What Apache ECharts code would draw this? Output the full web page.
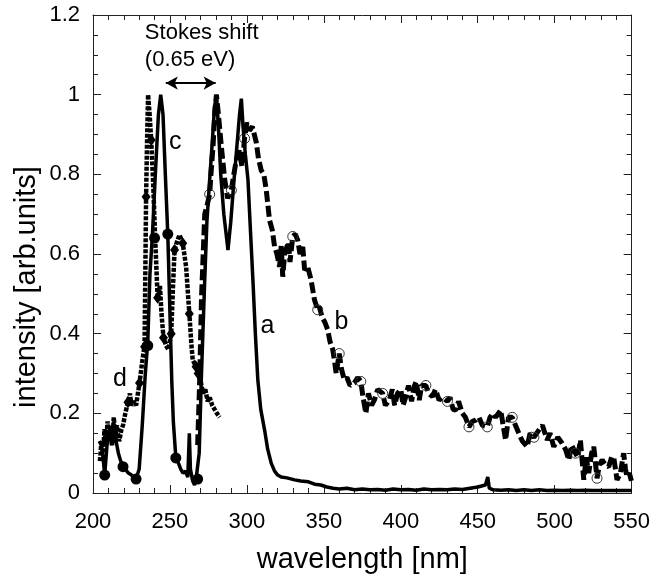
<!DOCTYPE html>
<html>
<head>
<meta charset="utf-8">
<script src="https://cdn.jsdelivr.net/npm/echarts@6/dist/echarts.min.js"></script>
<style>html,body{margin:0;padding:0;background:#fff}#c{width:653px;height:580px}</style>
</head>
<body>
<div id="c"></div>
<script>
var xTicks = [200, 250, 300, 350, 400, 450, 500, 550];
var yTicks = [0, 0.2, 0.4, 0.6, 0.8, 1, 1.2];

// solid curve (a, with c peak)
var solidA = [[204,0.13],[205.5,0.12],[206.5,0.09],[207.6,0.045],[208.5,0.09],[209.5,0.14],[210.8,0.16],[212,0.12],[213,0.15],[215,0.13],[216.5,0.10],[218,0.08],[219.5,0.066],[221,0.06],[223,0.05],[225,0.045],[228,0.035],[230,0.06],[232,0.17],[234,0.3],[235.6,0.38],[237,0.55],[238.5,0.64],[240.5,0.8],[242.5,0.95],[244,1.0],[245.5,0.95],[247,0.8],[248.6,0.65],[250,0.45],[251.2,0.28],[252.2,0.18],[253.8,0.09],[255.5,0.075],[257,0.06],[258.5,0.05],[260,0.055],[261.6,0.04],[262.6,0.15],[263.3,0.06],[264.8,0.03],[266,0.02],[267,0.035],[268,0.03],[269,0.1],[270.5,0.3],[272.6,0.535],[274,0.68],[275.8,0.786],[277.5,0.88],[279,0.97],[280.2,1.0],[281.5,0.92],[283,0.8],[285,0.7],[287.7,0.61],[289.5,0.68],[291.5,0.78],[293.5,0.87],[295.2,0.95],[296.4,0.99],[297.5,0.92],[299,0.85],[300.7,0.786],[302.3,0.66],[303.9,0.535],[305.5,0.4],[307.1,0.284],[309,0.21],[311.5,0.158],[313.5,0.11],[315.8,0.075],[318,0.055],[320,0.045],[322.3,0.04],[326,0.038],[331,0.033],[335,0.03],[340,0.028],[344,0.022],[348,0.02],[352,0.015],[356,0.012],[360,0.01],[365,0.012],[370,0.008],[375,0.01],[380,0.008],[385,0.009],[390,0.007],[395,0.01],[400,0.008],[405,0.009],[410,0.007],[415,0.01],[420,0.008],[425,0.009],[430,0.008],[435,0.01],[440,0.009],[445,0.012],[450,0.015],[455,0.02],[456.5,0.04],[457.5,0.012],[460,0.008],[465,0.007],[470,0.008],[475,0.006],[480,0.008],[485,0.006],[490,0.008],[495,0.006],[500,0.007],[505,0.006],[510,0.007],[515,0.006],[520,0.007],[525,0.006],[530,0.006],[535,0.006],[540,0.006],[545,0.006],[550,0.006]];
var solidMarks = [[207.6,0.045],[219.5,0.066],[228,0.035],[235.6,0.37],[240,0.64],[248.6,0.65],[253.8,0.088],[268,0.035]];

// dotted curve d (with diamonds)
var dottedD = [[204.5,0.08],[205.5,0.13],[206.5,0.1],[207.5,0.16],[208.5,0.12],[209.5,0.18],[210.5,0.13],[211.5,0.17],[212.5,0.12],[213.5,0.19],[214.5,0.14],[215.5,0.17],[217,0.13],[218.5,0.16],[219.5,0.17],[221,0.2],[222.7,0.228],[224,0.25],[225,0.22],[226.5,0.23],[228,0.22],[230.2,0.276],[232,0.33],[233.5,0.37],[234,0.55],[234.5,0.744],[235.2,0.9],[235.8,1.0],[236.8,0.95],[237.8,0.886],[239,0.786],[240.5,0.63],[242,0.49],[243.5,0.52],[244.5,0.45],[245.8,0.39],[247.5,0.37],[249,0.36],[250.8,0.40],[252,0.52],[253,0.61],[254.5,0.63],[256.2,0.648],[258.3,0.627],[260.5,0.568],[262.6,0.45],[264,0.37],[264.8,0.334],[267,0.317],[268.3,0.30],[270,0.28],[271.5,0.25],[273,0.26],[274.5,0.23],[275.8,0.24],[277.5,0.22],[279,0.21],[280.5,0.2],[282.3,0.19]];
var dottedMarks = [[214,0.14],[222.7,0.228],[230.2,0.276],[233.5,0.367],[234.5,0.744],[237.8,0.886],[242,0.49],[245.8,0.39],[250.8,0.40],[253,0.61],[258.3,0.627],[262.6,0.45],[267,0.317],[268.3,0.30]];

// dashed curve b (with open circles)
var dashedB = [[268,0.12],[269.3,0.28],[270.5,0.49],[272.6,0.70],[274,0.72],[275.8,0.75],[277,0.82],[278,0.87],[279.2,0.96],[280.2,1.0],[281.5,0.95],[283.4,0.87],[285.6,0.786],[287.5,0.74],[289.9,0.76],[291.5,0.80],[293.1,0.836],[295,0.86],[296.8,0.82],[298.5,0.89],[300,0.93],[301.7,0.91],[303.5,0.92],[306.1,0.88],[307.5,0.84],[309.3,0.81],[311,0.80],[312.6,0.76],[314.7,0.685],[316.5,0.66],[318,0.618],[319.5,0.60],[321.2,0.568],[322.3,0.62],[323.3,0.543],[324.5,0.60],[325.5,0.60],[327,0.63],[328,0.58],[329.8,0.644],[331.5,0.65],[333,0.635],[334.5,0.60],[336.3,0.618],[337.5,0.56],[339.5,0.568],[341.7,0.535],[343.9,0.485],[346,0.46],[347,0.468],[349,0.44],[350.5,0.43],[352.5,0.41],[354,0.38],[355.8,0.36],[357,0.33],[358,0.30],[360,0.35],[361.5,0.31],[363.3,0.284],[365,0.29],[367,0.27],[369.8,0.276],[372,0.29],[374,0.28],[375.5,0.24],[377.3,0.20],[379,0.25],[381,0.22],[382.8,0.233],[385,0.26],[388.2,0.25],[390,0.22],[392.5,0.233],[394.5,0.26],[396,0.22],[397.9,0.25],[400,0.26],[401.5,0.22],[403.3,0.242],[405,0.27],[407,0.23],[408.7,0.267],[410,0.28],[412,0.233],[413.5,0.27],[416.3,0.27],[418,0.25],[420.6,0.242],[422.5,0.26],[424.9,0.233],[427,0.24],[430.3,0.23],[432,0.24],[434,0.21],[435.7,0.208],[437.5,0.23],[440,0.20],[442,0.19],[444.3,0.166],[446.5,0.18],[448.7,0.183],[450.8,0.19],[453,0.17],[456.2,0.166],[458,0.19],[460,0.20],[461.6,0.19],[464.9,0.208],[466.5,0.17],[468.1,0.133],[470,0.19],[472.4,0.19],[474.5,0.17],[476.7,0.15],[479,0.13],[482.1,0.116],[484,0.15],[486.5,0.14],[489.7,0.158],[492,0.17],[495.1,0.133],[497,0.15],[499.4,0.116],[502,0.14],[504.8,0.125],[507,0.11],[509.2,0.083],[511,0.12],[513.5,0.10],[515,0.09],[516.7,0.133],[518.9,0.033],[520.5,0.09],[522.1,0.05],[524,0.10],[525.4,0.116],[527.5,0.037],[529,0.07],[530.8,0.083],[533,0.07],[535.1,0.066],[537,0.09],[538.3,0.091],[540.5,0.033],[542.7,0.05],[544.8,0.10],[546,0.06],[547,0.04],[548.5,0.05],[550,0.028]];
var dashedMarks = [[275.8,0.75],[289.9,0.76],[298.5,0.89],[329.8,0.644],[346,0.46],[360,0.35],[374,0.28],[388.2,0.25],[416.3,0.27],[430.3,0.23],[444.3,0.166],[456.2,0.166],[472.4,0.19],[486.5,0.14],[513.5,0.10],[527.5,0.037]];

var curveLabels = [{name:'a', value:[313.4,0.42]},{name:'b', value:[361.4,0.43]},{name:'c', value:[253.5,0.88]},{name:'d', value:[217.5,0.285]}];
var noteLabels = [{name:'Stokes shift', value:[233.7,1.155]},{name:'(0.65 eV)', value:[233.7,1.087]}];
var arrowEnds = [[247.3,1.029],[279.7,1.029]];
var xTitle = 'wavelength [nm]';
var yTitle = 'intensity [arb.units]';

var FONT = 'Liberation Sans, Arial, Helvetica, sans-serif';
var axisCol = '#222';
function baseX(show){
  return {type:'value', min:200, max:550, interval:50, position: show?'bottom':'top',
    axisLine:{show:true, onZero:false, lineStyle:{color:axisCol, width:1}},
    axisTick:{show:true, inside:true, length:8, lineStyle:{color:axisCol}},
    minorTick:{show:true, splitNumber:5, length:5, lineStyle:{color:axisCol}},
    splitLine:{show:false}, minorSplitLine:{show:false},
    axisLabel:{show:show, color:'#000', fontSize:22, fontFamily:FONT, margin:18},
    name: show?xTitle:'', nameLocation:'middle', nameGap:52,
    nameTextStyle:{color:'#000', fontSize:29, fontFamily:FONT}};
}
function baseY(show){
  return {type:'value', min:0, max:1.2, interval:0.2, position: show?'left':'right',
    axisLine:{show:true, onZero:false, lineStyle:{color:axisCol, width:1}},
    axisTick:{show:true, inside:true, length:8, lineStyle:{color:axisCol}},
    minorTick:{show:true, splitNumber:4, length:5, lineStyle:{color:axisCol}},
    splitLine:{show:false}, minorSplitLine:{show:false},
    axisLabel:{show:show, color:'#000', fontSize:22, fontFamily:FONT, margin:13, padding:[10,0,0,0]}};
}
var chart = echarts.init(document.getElementById('c'), null, {renderer:'canvas'});
chart.setOption({
  backgroundColor:'#fff',
  animation:false,
  grid:{left:93, right:20, top:15, bottom:87},
  xAxis:[baseX(true), baseX(false)],
  yAxis:[baseY(true), baseY(false)],
  graphic:[{type:'text', x:27, y:287, rotation:Math.PI/2,
    style:{text:yTitle, x:0, y:0, align:'center', verticalAlign:'middle', fill:'#000', fontSize:29, fontFamily:FONT}}],
  series:[
    {type:'line', data:dashedB, showSymbol:false, symbol:'none', z:2,
     lineStyle:{color:'#000', width:5, type:[11,4]}},
    {type:'scatter', data:dashedMarks, symbol:'circle', symbolSize:10, z:3,
     itemStyle:{color:'rgba(255,255,255,0)', borderColor:'#333', borderWidth:1, opacity:1}},
    {type:'line', data:dottedD, showSymbol:false, symbol:'none', z:4,
     lineStyle:{color:'#000', width:4.5, type:[4,1.5]}},
    {type:'scatter', data:dottedMarks, symbol:'diamond', symbolSize:[9,12], z:5,
     itemStyle:{color:'#000', opacity:1}},
    {type:'line', data:solidA, showSymbol:false, symbol:'none', z:6,
     lineStyle:{color:'#000', width:3.5}},
    {type:'scatter', data:solidMarks, symbol:'circle', symbolSize:11, z:7,
     itemStyle:{color:'#000', opacity:1}},
    {type:'scatter', data:curveLabels, symbolSize:0, z:8, itemStyle:{opacity:1},
     label:{show:true, position:'inside', formatter:'{b}', color:'#000', fontSize:25, fontFamily:FONT}},
    {type:'scatter', data:noteLabels, symbolSize:0, z:8, itemStyle:{opacity:1},
     label:{show:true, position:'inside', align:'left', formatter:'{b}', color:'#000', fontSize:22, fontFamily:FONT},
     markLine:{silent:true, symbol:['arrow','arrow'], symbolSize:[10,12], label:{show:false},
       lineStyle:{color:'#000', width:2, type:'solid', opacity:1},
       data:[[{coord:arrowEnds[0]},{coord:arrowEnds[1]}]]}}
  ]
});
</script>
</body>
</html>
